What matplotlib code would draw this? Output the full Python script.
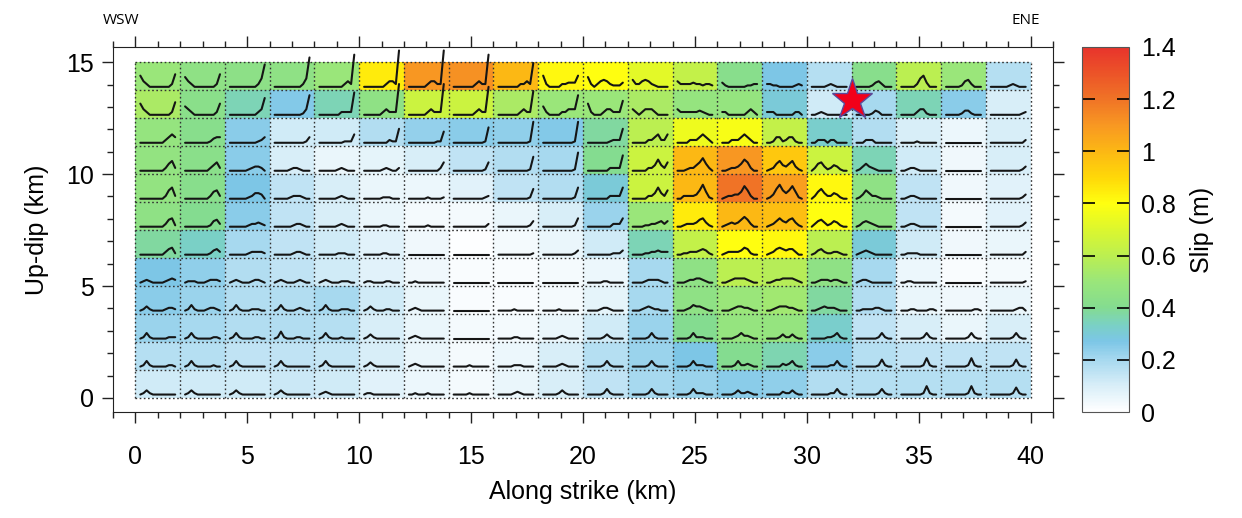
import numpy as np
import matplotlib
matplotlib.use("Agg")
import matplotlib.pyplot as plt
from matplotlib.colors import LinearSegmentedColormap
from matplotlib.ticker import MultipleLocator

plt.rcParams['font.family'] = ['Liberation Sans', 'DejaVu Sans']

# subfault grid: 20 patches along strike (2 km), 12 patches up dip (1.25 km)
x_edges = np.arange(0, 41, 2)
y_edges = np.linspace(0, 15, 13)

# slip (m) per subfault, shallowest row first
slip_rows = [
    [0.50, 0.45, 0.44, 0.45, 0.50, 0.85, 1.10, 1.12, 1.00, 0.82, 0.80, 0.72, 0.62, 0.42, 0.27, 0.17, 0.42, 0.60, 0.50, 0.17],
    [0.55, 0.43, 0.35, 0.26, 0.35, 0.45, 0.65, 0.65, 0.55, 0.50, 0.50, 0.55, 0.48, 0.48, 0.30, 0.12, 0.20, 0.35, 0.25, 0.10],
    [0.48, 0.42, 0.25, 0.12, 0.12, 0.18, 0.23, 0.25, 0.24, 0.26, 0.38, 0.60, 0.75, 0.78, 0.62, 0.32, 0.18, 0.10, 0.05, 0.10],
    [0.47, 0.43, 0.25, 0.10, 0.06, 0.07, 0.10, 0.15, 0.18, 0.20, 0.40, 0.65, 1.00, 1.10, 0.95, 0.65, 0.35, 0.12, 0.04, 0.10],
    [0.47, 0.42, 0.27, 0.15, 0.10, 0.06, 0.05, 0.08, 0.15, 0.18, 0.30, 0.65, 1.00, 1.20, 1.08, 0.82, 0.45, 0.15, 0.04, 0.08],
    [0.45, 0.40, 0.25, 0.15, 0.10, 0.06, 0.03, 0.03, 0.06, 0.10, 0.22, 0.50, 0.85, 1.00, 0.98, 0.80, 0.45, 0.15, 0.03, 0.08],
    [0.38, 0.33, 0.20, 0.15, 0.12, 0.08, 0.04, 0.01, 0.03, 0.06, 0.12, 0.35, 0.62, 0.80, 0.82, 0.60, 0.30, 0.12, 0.04, 0.06],
    [0.27, 0.24, 0.18, 0.15, 0.12, 0.08, 0.04, 0.02, 0.02, 0.03, 0.05, 0.20, 0.45, 0.60, 0.58, 0.45, 0.20, 0.05, 0.02, 0.03],
    [0.25, 0.22, 0.18, 0.18, 0.20, 0.12, 0.06, 0.02, 0.02, 0.03, 0.07, 0.20, 0.45, 0.50, 0.52, 0.38, 0.18, 0.06, 0.04, 0.06],
    [0.22, 0.20, 0.18, 0.18, 0.17, 0.10, 0.06, 0.03, 0.03, 0.06, 0.12, 0.22, 0.40, 0.48, 0.48, 0.32, 0.15, 0.10, 0.06, 0.10],
    [0.17, 0.17, 0.15, 0.15, 0.14, 0.10, 0.06, 0.03, 0.05, 0.10, 0.17, 0.22, 0.27, 0.40, 0.36, 0.25, 0.17, 0.15, 0.15, 0.15],
    [0.12, 0.12, 0.12, 0.13, 0.12, 0.08, 0.05, 0.03, 0.06, 0.10, 0.15, 0.20, 0.22, 0.25, 0.24, 0.18, 0.17, 0.17, 0.17, 0.17],
]

# moment-rate function of each subfault, 12 time samples, one base-36 digit each
# (shallowest row first, columns separated by spaces)
stf_rows = [
    "842000000029 742000000029 00000000026g 00000000026l 00000000242n 00000002442q 00000024422q 00000002422n 00000002242h 820000223338 "
    "720245421113 522454210000 422223221221 310000001122 221100000121 000001210000 000001342000 000002683000 000001452000 000000121000",
    "842000000029 642000000028 00000000024c 00000000014e 00000002222g 00000024222m 00000024222m 00000002422k 00000002422h 62000022444e "
    "82000244222a 420244420000 422222232100 220000002420 222000000220 001210000000 000001320000 000002441000 000001331000 000000000012",
    "000000002464 000000001344 000000000124 000000000014 000000001116 00000000211a 000000000118 00000000001b 00000000001f 00000000001f "
    "00000001222a 000002246226 000022246420 000222464200 001441244100 002220220000 000222000000 000001000000 000000000000 000000000002",
    "000000002572 000000002462 000000123320 000001221000 000000121000 000000121002 000000000026 000000000016 00000000001a 00000000001d "
    "00000002222b 000002248426 000122469520 001223586200 012574357310 025631243100 013532100000 001221000000 000000000000 000000000013",
    "000000002682 000000002562 000000124430 000001222100 000000121000 000000111000 000000100001 000000000012 000000000017 000000000018 "
    "000000022228 000002248426 00222236a510 012233596200 0137a6469510 025742243100 013642210000 001221000000 000000000000 000000000013",
    "000000002561 000000001452 000000122321 000000122100 000000121000 000000110000 000000100000 000000000002 000000000014 000000000016 "
    "000000002226 000011223424 001222356310 012323575200 012464356310 024531243100 013432100000 001221000000 000000000000 000000000013",
    "000000002451 000000001342 000000122221 000000122100 000000111000 000000110000 000000000000 000000000000 000000000001 000000000013 "
    "000000001113 000011223222 001122234310 012222354100 012454344200 013421122100 012321000000 001111000000 000000000000 000000000002",
    "012100001232 011100012221 012100012210 012100012100 012100011100 011000011000 001000000000 000000000000 000000000000 000000000000 "
    "000001100000 000012222100 000122332100 001233332100 001223333210 001222122100 012210000000 001100000000 000000000000 000000000001",
    "013100001221 014100012210 014100011100 014100012100 014100011100 013100011000 012100000000 000000000000 000001000000 000001000000 "
    "000012210000 000123211000 000124332100 000123322100 001233322100 001232221000 001111221000 000110000110 000000000110 000000001220",
    "014100000111 014100000110 014100001100 015100011000 014100010000 013100000000 012100000000 000000000000 000001100000 000001210000 "
    "000001310000 000001410000 000014111000 000012422100 000013113100 000001124100 000000014100 000000014100 000000014100 000000014100",
    "014100000110 014100000100 014100000000 014100000000 014100000000 013100000000 012100000000 000001000000 000001110000 000001210000 "
    "000001410000 000001410000 000014111000 000014112100 000002124100 000000114100 000000015100 000000016100 000000016100 000000015100",
    "013100000000 013100000000 013100000000 013100000000 012100000000 011000000000 001000100000 000001000000 000001210000 000001310000 "
    "000001410000 000001410000 000014111000 000013112100 000002113100 000000114100 000000014100 000000016100 000000016100 000000015100",
]

# hypocentre
hypo_x, hypo_y = 32.0, 13.3

cbar_ticks = [0, 0.2, 0.4, 0.6, 0.8, 1.0, 1.2, 1.4]

slip_colors = [
    (0.00, '#ffffff'), (0.10, '#d8eef8'), (0.20, '#a6d8ef'), (0.27, '#7cc6e6'),
    (0.33, '#7ad0c6'), (0.40, '#84dc90'), (0.50, '#9ae67a'), (0.60, '#bcef50'),
    (0.70, '#dcf72e'), (0.80, '#ffff10'), (0.90, '#ffd808'), (1.00, '#fcb814'),
    (1.10, '#f89822'), (1.20, '#f07426'), (1.30, '#ec5428'), (1.40, '#e8342c'),
]
cmap = LinearSegmentedColormap.from_list('slip', [(v / 1.4, c) for v, c in slip_colors])

slip = np.array(slip_rows)[::-1]
stf = [row.split() for row in stf_rows][::-1]

fig = plt.figure(figsize=(12.42, 5.18), dpi=100)
ax = fig.add_axes([113 / 1242, 1 - 412 / 518, 940 / 1242, 365 / 518])

mesh = ax.pcolormesh(x_edges, y_edges, slip, cmap=cmap, vmin=0, vmax=1.4, shading='flat')

# dotted patch boundaries
dots = (0, (1.2, 1.8))
ax.vlines(x_edges, 0, 15, colors='#333333', linestyles=dots, linewidth=1.0)
ax.hlines(y_edges, 0, 40, colors='#333333', linestyles=dots, linewidth=1.0)

# source time function inside every patch
t = np.linspace(0.22, 1.78, 12)
unit = 1.25 / 20
for r, row in enumerate(stf):
    for c, code in enumerate(row):
        amp = np.array([int(ch, 36) for ch in code]) * unit
        ax.plot(x_edges[c] + t, y_edges[r] + 0.15 + amp, color='#151515', lw=1.5,
                solid_joinstyle='round', solid_capstyle='round')

ax.plot(hypo_x, hypo_y, marker='*', ms=31, mfc='#f2001a', mec='#5a4a9a', mew=1.0, zorder=5)

ax.set_xlim(-1, 41)
ax.set_ylim(-0.63, 15.68)
ax.xaxis.set_major_locator(MultipleLocator(5))
ax.xaxis.set_minor_locator(MultipleLocator(1))
ax.yaxis.set_major_locator(MultipleLocator(5))
ax.yaxis.set_minor_locator(MultipleLocator(1))
ax.tick_params(which='both', direction='out', top=True, right=True, width=1.0, colors='#222222')
ax.tick_params(which='major', length=8)
ax.tick_params(which='minor', length=4)
ax.tick_params(axis='x', which='major', labelsize=18, pad=16)
ax.tick_params(axis='y', which='major', labelsize=18, pad=6)
for tl in ax.get_xticklabels() + ax.get_yticklabels():
    tl.set_color('black')
for sp in ax.spines.values():
    sp.set_color('#222222')
ax.set_xlabel('Along strike (km)', fontsize=18, labelpad=8)
ax.set_ylabel('Up-dip (km)', fontsize=18, labelpad=12)

fig.text(103 / 1242, 1 - 20 / 518, 'WSW', fontsize=11, family=['Open Sans', 'DejaVu Sans'],
         ha='left', va='center')
fig.text(1040 / 1242, 1 - 20 / 518, 'ENE', fontsize=11, family=['Open Sans', 'DejaVu Sans'],
         ha='right', va='center')

cax = fig.add_axes([1082 / 1242, 1 - 412 / 518, 47 / 1242, 365 / 518])
cb = fig.colorbar(mesh, cax=cax, ticks=cbar_ticks)
cb.ax.set_yticklabels([f'{v:g}' for v in cbar_ticks])
cax.tick_params(direction='in', left=True, right=True, length=9, width=1.2, labelsize=18, pad=9)
# no tick marks at the two ends of the bar
end_ticks = cax.yaxis.get_major_ticks()
for tk in (end_ticks[0], end_ticks[-1]):
    tk.tick1line.set_visible(False)
    tk.tick2line.set_visible(False)
cb.outline.set_edgecolor('#555555')
cb.set_label('Slip (m)', fontsize=18, labelpad=10)

fig.savefig('out.png', dpi=100)
